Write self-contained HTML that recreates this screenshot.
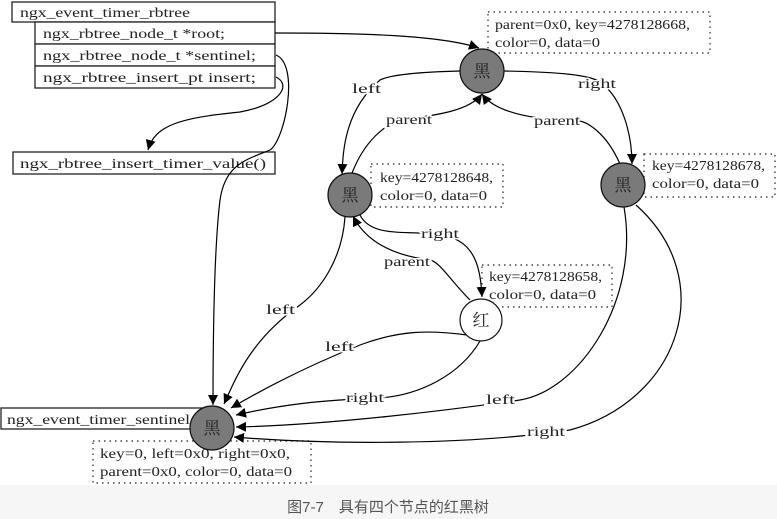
<!DOCTYPE html>
<html><head><meta charset="utf-8"><style>
html,body{margin:0;padding:0;background:#fff}
svg{display:block}
text{font-family:"Liberation Serif","Noto Serif CJK SC",serif;font-size:14px;fill:#222}
.z{font-family:"Liberation Serif","Noto Serif CJK SC",serif;font-size:17px;fill:#222}
</style></head><body>
<svg width="777" height="519" viewBox="0 0 777 519" xmlns="http://www.w3.org/2000/svg">
<defs><marker id="a" viewBox="0 0 10 10" refX="10" refY="5" markerWidth="10" markerHeight="10" markerUnits="userSpaceOnUse" orient="auto"><path d="M0,0L10,5L0,10z" fill="#000"/></marker></defs>
<rect x="0" y="485" width="777" height="34" fill="#f6f6f6"/>
<text x="388" y="512" text-anchor="middle" style="font-family:'Liberation Sans','Noto Sans CJK SC',sans-serif;font-size:15px;fill:#555">图7-7　具有四个节点的红黑树</text>
<g fill="#fff" stroke="#222" stroke-width="1.3">
<rect x="12" y="2" width="263" height="20"/>
<rect x="35" y="22" width="240" height="22"/>
<rect x="35" y="44" width="240" height="22"/>
<rect x="35" y="66" width="240" height="22"/>
<rect x="13" y="152" width="262" height="22"/>
<rect x="1" y="408" width="204" height="21"/>
</g>
<text x="20" y="17" textLength="170" lengthAdjust="spacingAndGlyphs">ngx_event_timer_rbtree</text>
<text x="43" y="38" textLength="182" lengthAdjust="spacingAndGlyphs">ngx_rbtree_node_t *root;</text>
<text x="43" y="60" textLength="213" lengthAdjust="spacingAndGlyphs">ngx_rbtree_node_t *sentinel;</text>
<text x="43" y="82" textLength="213" lengthAdjust="spacingAndGlyphs">ngx_rbtree_insert_pt insert;</text>
<text x="20" y="168" textLength="246" lengthAdjust="spacingAndGlyphs">ngx_rbtree_insert_timer_value()</text>
<text x="7" y="424" textLength="183" lengthAdjust="spacingAndGlyphs">ngx_event_timer_sentinel</text>
<g fill="none" stroke="#444" stroke-width="1.4" stroke-dasharray="1.5,4">
<rect x="488" y="12" width="222" height="41"/>
<rect x="371" y="164" width="132" height="43"/>
<rect x="644" y="154" width="131" height="43"/>
<rect x="482" y="265" width="130" height="42"/>
<rect x="93" y="441" width="218" height="42"/>
</g>
<text x="495" y="29" textLength="195" lengthAdjust="spacingAndGlyphs">parent=0x0, key=4278128668,</text>
<text x="495" y="47" textLength="105" lengthAdjust="spacingAndGlyphs">color=0, data=0</text>
<text x="380" y="182" textLength="113" lengthAdjust="spacingAndGlyphs">key=4278128648,</text>
<text x="380" y="200" textLength="107" lengthAdjust="spacingAndGlyphs">color=0, data=0</text>
<text x="652" y="170" textLength="113" lengthAdjust="spacingAndGlyphs">key=4278128678,</text>
<text x="652" y="188" textLength="107" lengthAdjust="spacingAndGlyphs">color=0, data=0</text>
<text x="489" y="281" textLength="113" lengthAdjust="spacingAndGlyphs">key=4278128658,</text>
<text x="489" y="299" textLength="107" lengthAdjust="spacingAndGlyphs">color=0, data=0</text>
<text x="100" y="458" textLength="190" lengthAdjust="spacingAndGlyphs">key=0, left=0x0, right=0x0,</text>
<text x="100" y="476" textLength="192" lengthAdjust="spacingAndGlyphs">parent=0x0, color=0, data=0</text>
<g fill="none" stroke="#000" stroke-width="1.2" marker-end="url(#a)">
<path d="M275,33 C360,33 440,35 479,48"/>
<path d="M276,55 C300,65 285,140 270,150 C245,160 225,165 220,200 C214,250 213,350 213,405"/>
<path d="M276,77 C292,85 280,105 240,112 C180,118 155,125 148,150"/>
<path d="M460,71 C420,72 390,75 380,80 C345,110 343,150 342,174"/>
<path d="M352,173 C365,140 385,125 400,120 C440,115 470,110 482,94"/>
<path d="M504,71 C560,72 590,75 600,82 C625,100 632,140 632,164"/>
<path d="M620,164 C605,130 585,122 580,121 C530,120 495,112 482,94"/>
<path d="M360,215 C370,235 400,232 420,233 C465,233 480,250 482,297"/>
<path d="M470,300 C450,280 440,262 430,260 C390,255 365,240 353,216"/>
<path d="M345,217 C342,260 320,290 300,305 C250,340 235,380 224,404"/>
<path d="M467,335 C430,330 400,330 360,345 C310,365 270,385 231,408"/>
<path d="M480,341 C460,375 420,395 380,398 C320,400 280,405 236,415"/>
<path d="M624,207 C640,300 580,390 520,400 C450,410 330,425 236,427"/>
<path d="M636,205 C720,280 680,400 570,430 C470,445 330,445 234,437"/>
</g>
<g stroke="#111" stroke-width="1.2">
<circle cx="482" cy="71" r="22" fill="#7a7a7a"/>
<circle cx="350" cy="195" r="22" fill="#7a7a7a"/>
<circle cx="623" cy="185" r="22" fill="#7a7a7a"/>
<circle cx="481" cy="320" r="21" fill="#fff"/>
<circle cx="212" cy="428" r="22" fill="#7a7a7a"/>
</g>
<text class="z" x="482" y="77" text-anchor="middle">黑</text>
<text class="z" x="350" y="201" text-anchor="middle">黑</text>
<text class="z" x="623" y="191" text-anchor="middle">黑</text>
<text class="z" x="481" y="326" text-anchor="middle">红</text>
<text class="z" x="212" y="434" text-anchor="middle">黑</text>
<g style="paint-order:stroke" stroke="#fff" stroke-width="3">
<text x="352" y="93" textLength="29" lengthAdjust="spacingAndGlyphs">left</text>
<text x="386" y="124" textLength="46" lengthAdjust="spacingAndGlyphs">parent</text>
<text x="578" y="88" textLength="38" lengthAdjust="spacingAndGlyphs">right</text>
<text x="534" y="125" textLength="46" lengthAdjust="spacingAndGlyphs">parent</text>
<text x="421" y="238" textLength="38" lengthAdjust="spacingAndGlyphs">right</text>
<text x="384" y="266" textLength="46" lengthAdjust="spacingAndGlyphs">parent</text>
<text x="266" y="314" textLength="29" lengthAdjust="spacingAndGlyphs">left</text>
<text x="325" y="351" textLength="29" lengthAdjust="spacingAndGlyphs">left</text>
<text x="346" y="402" textLength="38" lengthAdjust="spacingAndGlyphs">right</text>
<text x="486" y="404" textLength="29" lengthAdjust="spacingAndGlyphs">left</text>
<text x="527" y="436" textLength="38" lengthAdjust="spacingAndGlyphs">right</text>
</g>
</svg>
</body></html>
